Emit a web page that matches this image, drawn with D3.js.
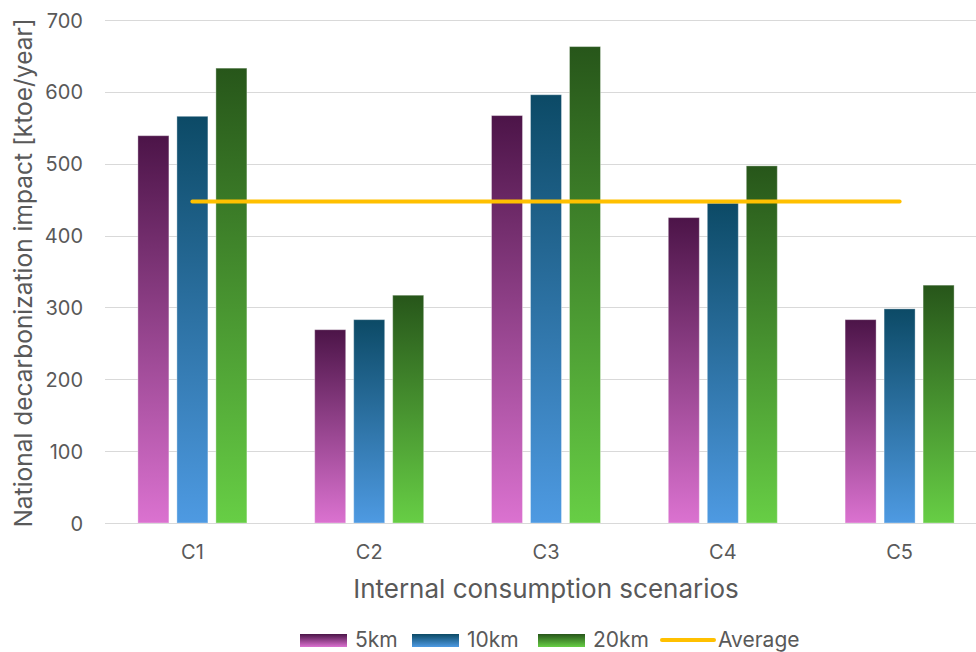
<!DOCTYPE html>
<html>
<head>
<meta charset="utf-8">
<script src="https://cdn.jsdelivr.net/npm/d3@7"></script>
<style>
  html, body { margin: 0; padding: 0; background: #fff; }
  svg text { font-family: Inter, "Open Sans", "Noto Sans", sans-serif; fill: #595959; }
</style>
</head>
<body>
<svg id="chart" width="976" height="652"></svg>
<script>
// Scenario categories and series (ktoe/year)
const categories = ["C1", "C2", "C3", "C4", "C5"];
const seriesNames = ["5km", "10km", "20km"];
const values5km  = [539, 269, 567, 425, 283];
const values10km = [566, 283, 596, 445, 298];
const values20km = [633, 317, 663, 497, 331];
const yTicks = [0, 100, 200, 300, 400, 500, 600, 700];

const seriesValues = [values5km, values10km, values20km];
const allValues = seriesValues.flat();
const averageValue = d3.mean(allValues);

// Gradient stops per series: [top, bottom]
const gradients = [
  ["#4c1448", "#db72d0"],
  ["#0c4a66", "#4e9ae2"],
  ["#27561a", "#67ce45"]
];

const svg = d3.select("#chart");
const W = 976, H = 652;
const plotLeft = 104, plotRight = 988, plotTop = 20, plotBottom = 523;

const x = d3.scaleBand().domain(categories).range([plotLeft, plotRight]).paddingInner(0).paddingOuter(0);
const groupWidth = 109;
const xs = d3.scaleBand().domain(seriesNames).range([0, groupWidth]).paddingInner(0.205).paddingOuter(0);
const y = d3.scaleLinear().domain([0, 700]).range([plotBottom, plotTop]);

const defs = svg.append("defs");
gradients.forEach((g, i) => {
  const lg = defs.append("linearGradient")
    .attr("id", "grad" + i)
    .attr("x1", 0).attr("y1", 0).attr("x2", 0).attr("y2", 1);
  lg.append("stop").attr("offset", "0%").attr("stop-color", g[0]);
  lg.append("stop").attr("offset", "100%").attr("stop-color", g[1]);
});

// Gridlines
svg.append("g")
  .selectAll("line")
  .data(yTicks.filter(t => t > 0))
  .join("line")
  .attr("x1", 105).attr("x2", W)
  .attr("y1", d => Math.round(y(d)) + 0.5).attr("y2", d => Math.round(y(d)) + 0.5)
  .attr("stroke", "#d9d9d9").attr("stroke-width", 1);

// Y axis labels
const yAxis = d3.axisLeft(y).tickValues(yTicks).tickSize(0).tickPadding(0);
svg.append("g")
  .attr("transform", "translate(83,0)")
  .call(yAxis)
  .call(g => g.select(".domain").remove())
  .selectAll("text")
  .style("font-size", "20px")
  .attr("dy", "0.35em");

// Bars
const groups = svg.append("g").selectAll("g")
  .data(categories)
  .join("g")
  .attr("transform", d => `translate(${x(d) + x.bandwidth() / 2 - groupWidth / 2},0)`);

groups.selectAll("rect")
  .data((d, ci) => seriesNames.map((s, si) => ({ s, si, v: seriesValues[si][ci] })))
  .join("rect")
  .attr("x", d => xs(d.s))
  .attr("width", xs.bandwidth())
  .attr("y", d => y(d.v))
  .attr("height", d => y(0) - y(d.v))
  .attr("fill", d => `url(#grad${d.si})`)
  .attr("stroke", "rgba(255,255,255,0.35)")
  .attr("stroke-width", 1);

// Baseline
svg.append("line")
  .attr("x1", 105).attr("x2", W)
  .attr("y1", Math.round(y(0)) + 0.5).attr("y2", Math.round(y(0)) + 0.5)
  .attr("stroke", "#d9d9d9").attr("stroke-width", 1);

// X axis category labels
const xAxis = d3.axisBottom(x).tickSize(0).tickPadding(0);
svg.append("g")
  .attr("transform", `translate(0,${y(0) + 29})`)
  .call(xAxis)
  .call(g => g.select(".domain").remove())
  .selectAll("text")
  .style("font-size", "20px")
  .attr("dy", "0.35em");

// Average line across category centers
const avgLine = d3.line()
  .x(d => x(d) + x.bandwidth() / 2)
  .y(() => y(averageValue));
svg.append("path")
  .datum(categories)
  .attr("d", avgLine)
  .attr("fill", "none")
  .attr("stroke", "#ffc000")
  .attr("stroke-width", 4)
  .attr("stroke-linecap", "round");

// Axis titles
svg.append("text")
  .attr("transform", "translate(32,273) rotate(-90)")
  .attr("text-anchor", "middle")
  .style("font-size", "24.5px")
  .text("National decarbonization impact [ktoe/year]");

svg.append("text")
  .attr("x", 546).attr("y", 598)
  .attr("text-anchor", "middle")
  .style("font-size", "26px")
  .text("Internal consumption scenarios");

// Legend
const legend = svg.append("g");
const legendItems = [
  { label: "5km", type: "rect", idx: 0, x: 300, tx: 355 },
  { label: "10km", type: "rect", idx: 1, x: 412, tx: 467 },
  { label: "20km", type: "rect", idx: 2, x: 538, tx: 593 },
  { label: "Average", type: "line", x: 662, tx: 718 }
];
legendItems.forEach(it => {
  if (it.type === "rect") {
    legend.append("rect")
      .attr("x", it.x).attr("y", 634).attr("width", 47).attr("height", 13)
      .attr("fill", `url(#grad${it.idx})`);
  } else {
    legend.append("line")
      .attr("x1", it.x).attr("x2", it.x + 52).attr("y1", 640).attr("y2", 640)
      .attr("stroke", "#ffc000").attr("stroke-width", 4).attr("stroke-linecap", "round");
  }
  legend.append("text")
    .attr("x", it.tx).attr("y", 640).attr("dy", "0.35em")
    .style("font-size", "21px")
    .text(it.label);
});
</script>
</body>
</html>
